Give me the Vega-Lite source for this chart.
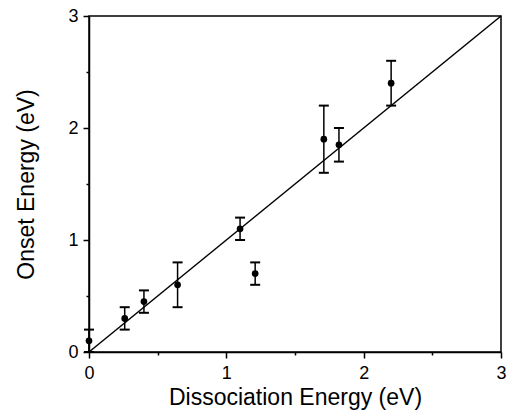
{
  "$schema": "https://vega.github.io/schema/vega-lite/v6.json",
  "autosize": "none",
  "width": 412,
  "height": 336,
  "padding": {"left": 89, "top": 16, "right": 7, "bottom": 64},
  "background": "white",
  "config": {
    "font": "Liberation Sans",
    "view": {"stroke": "black", "strokeWidth": 1.5},
    "axis": {
      "grid": false,
      "domainColor": "black",
      "domainWidth": 1.5,
      "tickColor": "black",
      "tickWidth": 1.5,
      "labelColor": "black",
      "titleColor": "black",
      "labelFontSize": 18,
      "titleFontSize": 23,
      "titleFontWeight": "normal",
      "labelFont": "Liberation Sans",
      "titleFont": "Liberation Sans",
      "labelFlush": false
    }
  },
  "datasets": {
    "pts": [
      {"x": 0.0, "y": 0.1, "err": 0.1},
      {"x": 0.26, "y": 0.3, "err": 0.1},
      {"x": 0.4, "y": 0.45, "err": 0.1},
      {"x": 0.645, "y": 0.6, "err": 0.2},
      {"x": 1.1, "y": 1.1, "err": 0.1},
      {"x": 1.21, "y": 0.7, "err": 0.1},
      {"x": 1.71, "y": 1.9, "err": 0.3},
      {"x": 1.82, "y": 1.85, "err": 0.15},
      {"x": 2.2, "y": 2.4, "err": 0.2}
    ],
    "diag": [{"x": 0, "y": 0}, {"x": 3, "y": 3}]
  },
  "layer": [
    {
      "data": {"name": "diag"},
      "mark": {"type": "line", "color": "black", "strokeWidth": 1.5},
      "encoding": {
        "x": {
          "field": "x", "type": "quantitative",
          "title": "Dissociation Energy (eV)",
          "scale": {"domain": [0, 3], "nice": false, "zero": false},
          "axis": {
            "values": [0, 0.5, 1, 1.5, 2, 2.5, 3],
            "labelExpr": "datum.value % 1 === 0 ? format(datum.value, 'd') : ''",
            "tickSize": {"condition": {"test": "datum.value % 1 !== 0", "value": 3}, "value": 6},
            "labelPadding": 6,
            "titlePadding": 4
          }
        },
        "y": {
          "field": "y", "type": "quantitative",
          "title": "Onset Energy (eV)",
          "scale": {"domain": [0, 3], "nice": false, "zero": false},
          "axis": {
            "values": [0, 0.5, 1, 1.5, 2, 2.5, 3],
            "labelExpr": "datum.value % 1 === 0 ? format(datum.value, 'd') : ''",
            "tickSize": {"condition": {"test": "datum.value % 1 !== 0", "value": 3}, "value": 6},
            "labelPadding": 5,
            "titlePadding": 29
          }
        }
      }
    },
    {
      "data": {"name": "pts"},
      "mark": {"type": "errorbar", "ticks": {"size": 10, "thickness": 2, "color": "black", "opacity": 1}, "rule": {"strokeWidth": 1.5, "color": "black"}, "color": "black"},
      "encoding": {
        "x": {"field": "x", "type": "quantitative", "title": "Dissociation Energy (eV)"},
        "y": {"field": "y", "type": "quantitative", "title": "Onset Energy (eV)"},
        "yError": {"field": "err"}
      }
    },
    {
      "data": {"name": "pts"},
      "mark": {"type": "point", "filled": true, "color": "black", "opacity": 1, "size": 45},
      "encoding": {
        "x": {"field": "x", "type": "quantitative", "title": "Dissociation Energy (eV)"},
        "y": {"field": "y", "type": "quantitative", "title": "Onset Energy (eV)"}
      }
    }
  ]
}
